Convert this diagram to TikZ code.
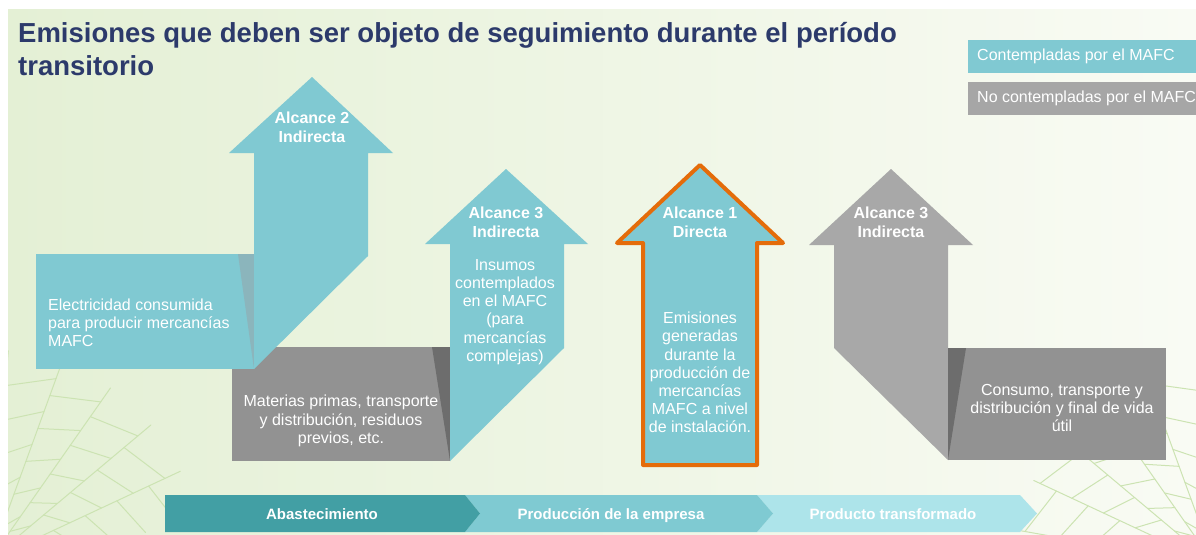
\documentclass[tikz,border=0pt]{standalone}
\usepackage{fontspec}
\setmainfont{Liberation Sans}
\usetikzlibrary{calc}
\definecolor{navy}{HTML}{2C3A6B}
\definecolor{teal}{HTML}{80C9D2}
\definecolor{tealwedge}{HTML}{8BB5BC}
\definecolor{graybox}{HTML}{929292}
\definecolor{grayarrow}{HTML}{A8A8A8}
\definecolor{graywedge}{HTML}{6D6D6D}
\definecolor{legendgray}{HTML}{A6A6A6}
\definecolor{focus}{HTML}{E46C0A}
\definecolor{chevA}{HTML}{429FA4}
\definecolor{chevB}{HTML}{7FCAD2}
\definecolor{chevC}{HTML}{ADE4EA}
\definecolor{bgleft}{HTML}{E4F0D5}
\definecolor{bgright}{HTML}{F9FBF4}
\definecolor{vein}{HTML}{CCE3B2}
\begin{document}
\begin{tikzpicture}[x=1pt,y=-1pt,
  every node/.style={inner sep=0pt,text=white,font=\fontsize{16}{18}\selectfont},
  alcance/.style={align=center,font=\bfseries\fontsize{16}{19}\selectfont},
  bodytxt/.style={align=center,font=\fontsize{16}{18.2}\selectfont},
  phase/.style={anchor=base,font=\bfseries\fontsize{15}{17}\selectfont},
  veinline/.style={draw=vein,line width=1pt,line cap=round}]
  \useasboundingbox (0,0) rectangle (1196,535);
  % slide background
  \fill[white] (0,0) rectangle (1196,535);
  \shade[left color=bgleft,right color=bgright] (8,10) rectangle (1196,535);
  \begin{scope}
    \clip (8,10) rectangle (1196,535);
    % leaf veins, bottom left
    \coordinate (rootL) at (-10,560);
    \foreach \a in {-25,-40,...,-85} {
      \draw[veinline] (rootL) -- ++(\a:210);
      \foreach \r in {35,70,...,190} {
        \draw[veinline] ($(rootL)+(\a:\r)$) -- ($(rootL)+(\a+15:\r+18)$);
      }
    }
    % leaf veins, bottom right
    \coordinate (rootR) at (1215,565);
    \foreach \a in {-95,-110,...,-170} {
      \draw[veinline] (rootR) -- ++(\a:200);
      \foreach \r in {35,70,...,175} {
        \draw[veinline] ($(rootR)+(\a:\r)$) -- ($(rootR)+(\a-15:\r+18)$);
      }
    }
  \end{scope}

  % title
  \node[anchor=base west,text=navy,font=\bfseries\fontsize{27.5}{32}\selectfont] (title1) at (18,43)
    {Emisiones que deben ser objeto de seguimiento durante el período};
  \node[anchor=base west,text=navy,font=\bfseries\fontsize{27.5}{32}\selectfont] (title2) at (18,75)
    {transitorio};

  % legend
  \fill[teal] (968,40) rectangle (1196,73);
  \node[anchor=west] (legA) at (977,56.5) {Contempladas por el MAFC};
  \fill[legendgray] (968,82) rectangle (1196,115);
  \node[anchor=west] (legB) at (977,98.5) {No contempladas por el MAFC};

  % grey boxes behind the teal arrows
  \fill[graybox] (232,347) rectangle (450,461);
  \fill[graywedge] (432,347) -- (450,347) -- (450,461) -- cycle;

  % Alcance 2
  \fill[teal] (36,254) rectangle (254,369);
  \fill[tealwedge] (238,254) -- (254,254) -- (254,369) -- cycle;
  \fill[teal] (254,369) -- (254,153) -- (229,153) -- (312,77) -- (393,153)
    -- (368,153) -- (368,256) -- cycle;

  % Alcance 3, upstream
  \fill[teal] (450,461) -- (450,244) -- (425,244) -- (506,169) -- (588,244)
    -- (564,244) -- (564,348) -- cycle;

  % Alcance 1
  \filldraw[fill=teal,draw=focus,line width=4pt,line join=round]
    (643,465) -- (643,243) -- (617,243) -- (700,165) -- (783,243)
    -- (757,243) -- (757,465) -- cycle;

  % Alcance 3, downstream
  \fill[grayarrow] (834,348) -- (834,245) -- (809,245) -- (891,169) -- (973,245)
    -- (948,245) -- (948,460) -- cycle;
  \fill[graybox] (948,348) rectangle (1166,460);
  \fill[graywedge] (948,348) -- (966,348) -- (948,460) -- cycle;

  % texts
  \node[alcance] (a2) at (312,127) {Alcance 2\\Indirecta};
  \node[anchor=west,align=left] (elec) at (48,322.5)
    {Electricidad consumida\\para producir mercancías\\MAFC};
  \node[bodytxt] (mat) at (341,421) {Materias primas, transporte\\y distribución, residuos\\previos, etc.};
  \node[alcance] (a3up) at (506,222) {Alcance 3\\Indirecta};
  \node[bodytxt] (insumos) at (505,312)
    {Insumos\\contemplados\\en el MAFC\\(para\\mercancías\\complejas)};
  \node[alcance] (a1) at (700,222) {Alcance 1\\Directa};
  \node[bodytxt] (emis) at (700,372.5)
    {Emisiones\\generadas\\durante la\\producción de\\mercancías\\MAFC a nivel\\de instalación.};
  \node[alcance] (a3down) at (891,222) {Alcance 3\\Indirecta};
  \node[bodytxt] (cons) at (1062,408) {Consumo, transporte y\\distribución y final de vida\\útil};

  % value chain
  \fill[chevC] (757,495) -- (1020,495) -- (1037,513.5) -- (1020,532) -- (757,532)
    -- (773,513.5) -- cycle;
  \fill[chevB] (465,495) -- (757,495) -- (773,513.5) -- (757,532) -- (465,532)
    -- (480,513.5) -- cycle;
  \fill[chevA] (165,495) -- (465,495) -- (480,513.5) -- (465,532) -- (165,532) -- cycle;
  \node[phase] (abast) at (322,519) {Abastecimiento};
  \node[phase] (prod) at (611,519) {Producción de la empresa};
  \node[phase] (transf) at (893,519) {Producto transformado};
\end{tikzpicture}
\end{document}
